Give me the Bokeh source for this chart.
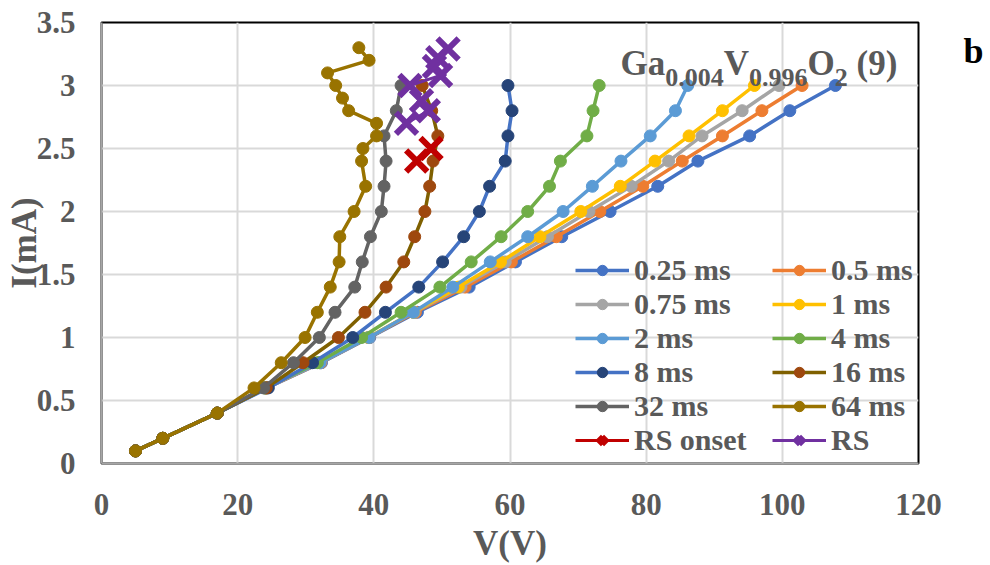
from bokeh.plotting import figure
from bokeh.models import (Range1d, SingleIntervalTicker, FixedTicker, NumeralTickFormatter, Legend,
                          LegendItem, Label, LinearAxis)
from bokeh.embed import file_html
from bokeh.resources import INLINE

FONT = "Liberation Serif"
TXT = "#595959"

# ---------------- data ----------------
I_std = [0.1, 0.2, 0.4, 0.6, 0.8, 1.0, 1.2, 1.4, 1.6, 1.8, 2.0, 2.2, 2.4, 2.6, 2.8, 3.0]
v_025 = [5.0, 9.0, 17.0, 24.3, 32.3, 39.4, 46.4, 54.0, 60.8, 67.6, 74.7, 81.7, 87.6, 95.2, 101.1, 107.8]
v_05 = [5.0, 9.0, 17.0, 24.2, 32.2, 39.3, 46.1, 53.4, 60.2, 66.8, 73.2, 79.5, 85.3, 91.2, 97.0, 102.9]
v_075 = [5.0, 9.0, 17.0, 24.1, 32.1, 39.2, 45.9, 52.8, 59.3, 65.5, 71.6, 77.8, 83.3, 88.2, 94.1, 99.5]
v_1 = [5.0, 9.0, 17.0, 24.1, 32.0, 39.2, 45.8, 52.4, 58.6, 64.4, 70.4, 76.2, 81.3, 86.3, 91.2, 95.9]
v_2 = [5.0, 9.0, 17.0, 24.0, 32.1, 39.3, 45.8, 51.6, 57.1, 62.6, 67.8, 72.1, 76.3, 80.6, 84.3, 86.1]
v_4 = [5.0, 9.0, 17.0, 24.0, 31.7, 38.2, 44.0, 49.7, 54.3, 58.7, 62.6, 65.8, 67.4, 71.3, 72.2, 73.1]
v_8 = [5.0, 9.0, 17.0, 24.5, 31.0, 36.9, 41.7, 46.6, 50.1, 53.2, 55.5, 57.0, 59.3, 59.7, 60.3, 59.7]
v_16 = [5.0, 9.0, 17.0, 24.2, 29.6, 34.8, 38.7, 41.8, 44.4, 46.0, 47.5, 48.2, 48.7, 49.4, 48.5, 47.1]
v_32 = [5.0, 9.0, 17.0, 23.8, 28.2, 32.0, 34.3, 37.2, 38.3, 39.5, 41.1, 41.5, 41.8, 41.5, 43.3, 44.0]
I_64 = [0.1, 0.2, 0.4, 0.6, 0.8, 1.0, 1.2, 1.4, 1.6, 1.8, 2.0, 2.2, 2.4, 2.5, 2.6, 2.7, 2.8, 2.9, 3.0, 3.1, 3.2, 3.3]
v_64 = [5.0, 9.0, 17.0, 22.4, 26.4, 29.9, 31.7, 33.6, 34.9, 35.0, 37.1, 38.8, 38.2, 38.4, 40.4, 40.4, 36.3, 35.4, 34.4, 33.2, 39.3, 37.8]
I_onset = [2.4, 2.5]
v_onset = [46.3, 48.4]
I_rs = [2.7, 2.8, 2.88, 3.0, 3.08, 3.15, 3.22, 3.29]
v_rs = [44.8, 48.0, 47.0, 45.3, 49.8, 48.9, 49.4, 50.9]

series = [
    ("0.25 ms", v_025, I_std, "#4472C4", "#4472C4", "circle"),
    ("0.5 ms", v_05, I_std, "#ED7D31", "#ED7D31", "circle"),
    ("0.75 ms", v_075, I_std, "#A5A5A5", "#A5A5A5", "circle"),
    ("1 ms", v_1, I_std, "#FFC000", "#FFC000", "circle"),
    ("2 ms", v_2, I_std, "#5B9BD5", "#5B9BD5", "circle"),
    ("4 ms", v_4, I_std, "#70AD47", "#70AD47", "circle"),
    ("8 ms", v_8, I_std, "#4472C4", "#264478", "circle"),
    ("16 ms", v_16, I_std, "#7F6000", "#9E480E", "circle"),
    ("32 ms", v_32, I_std, "#636363", "#636363", "circle"),
    ("64 ms", v_64, I_64, "#997300", "#997300", "circle"),
    ("RS onset", v_onset, I_onset, "#C00000", "#C00000", "x"),
    ("RS", v_rs, I_rs, "#7030A0", "#7030A0", "x"),
]

p = figure(width=990, height=565, output_backend="svg", toolbar_location=None,
           x_range=Range1d(0, 120), y_range=Range1d(0, 3.5),
           min_border_left=101, min_border_right=72, min_border_top=22, min_border_bottom=99)
p.background_fill_color = "white"
p.border_fill_color = "white"
p.outline_line_color = "black"
p.outline_line_width = 2

p.xaxis.ticker = SingleIntervalTicker(interval=20)
p.yaxis.ticker = SingleIntervalTicker(interval=0.5)
p.yaxis.formatter = NumeralTickFormatter(format="0.[0]")
p.xaxis.axis_label = "V(V)"
p.yaxis.axis_label = "I(mA)"
for ax in (p.xaxis[0], p.yaxis[0]):
    ax.axis_line_color = "#A6A6A6"
    ax.axis_line_width = 2
    ax.major_tick_line_color = None
    ax.minor_tick_line_color = None
    ax.major_tick_out = 0
    ax.major_tick_in = 0
    ax.major_label_text_font = FONT
    ax.major_label_text_font_style = "bold"
    ax.major_label_text_font_size = "31px"
    ax.major_label_text_color = TXT
    ax.axis_label_text_font = FONT
    ax.axis_label_text_font_style = "bold"
    ax.axis_label_text_font_size = "35px"
    ax.axis_label_text_color = TXT
p.xaxis.major_label_standoff = 26
p.xaxis.axis_label_standoff = 6
p.yaxis.major_label_standoff = 22
p.yaxis.axis_label_standoff = -10
p.grid.grid_line_color = "#D9D9D9"
p.grid.grid_line_width = 2

# panel letter "b" at the right, as the (top line of the) label of an invisible axis
baxis = LinearAxis(ticker=FixedTicker(ticks=[]), axis_label="b" + "\n " * 8,
                   axis_label_orientation="horizontal", axis_line_color=None,
                   major_tick_line_color=None, minor_tick_line_color=None,
                   axis_label_text_font=FONT, axis_label_text_font_style="bold",
                   axis_label_text_font_size="36px", axis_label_text_color="black",
                   axis_label_text_line_height=1.2, axis_label_standoff=45)
p.add_layout(baxis, "right")

items = {}
for name, xs, ys, lc, mc, mk in series:
    if mk == "circle":
        r1 = p.line(xs, ys, line_color=lc, line_width=3.5)
        r2 = p.scatter(xs, ys, marker="circle", size=12, fill_color=mc, line_color=mc, line_width=1)
    else:
        r1 = p.line(xs, ys, line_color=lc, line_width=3)
        r2 = p.scatter(xs, ys, marker="x", size=30, line_color=mc, line_width=6)
    items[name] = LegendItem(label=name, renderers=[r1, r2])

col1 = ["0.25 ms", "0.75 ms", "2 ms", "8 ms", "32 ms", "RS onset"]
col2 = ["0.5 ms", "1 ms", "4 ms", "16 ms", "64 ms", "RS"]
for names, loc in ((col1, (474, 6)), (col2, (671, 6))):
    leg = Legend(items=[items[n] for n in names], location=loc, orientation="vertical",
                 background_fill_alpha=0, border_line_color=None, padding=0, margin=0,
                 spacing=0, glyph_width=54, glyph_height=26, label_height=26, label_standoff=5,
                 label_text_font=FONT, label_text_font_style="bold", label_text_font_size="30px",
                 label_text_color=TXT)
    p.add_layout(leg, "center")

# title with subscripts (positions in data units)
def dx(px):
    return (px - 101) / (817 / 120)

def dy(py):
    return (466 - py) / (444 / 3.5)

parts = [("Ga", 620, 35, 63.5), ("0.004", 664.7, 26, 77.5), ("V", 723.2, 35, 63.5),
         ("0.996", 748.5, 26, 77.5), ("O", 807, 35, 63.5), ("2", 834.2, 26, 77.5), ("(9)", 856, 35, 63.5)]
for t, px, fs, py in parts:
    p.add_layout(Label(x=dx(px), y=dy(py), text=t, text_font=FONT, text_font_style="bold",
                       text_font_size=f"{fs}px", text_color=TXT, text_baseline="alphabetic",
                       text_align="left"))

open("out.html", "w").write(file_html(p, INLINE))
